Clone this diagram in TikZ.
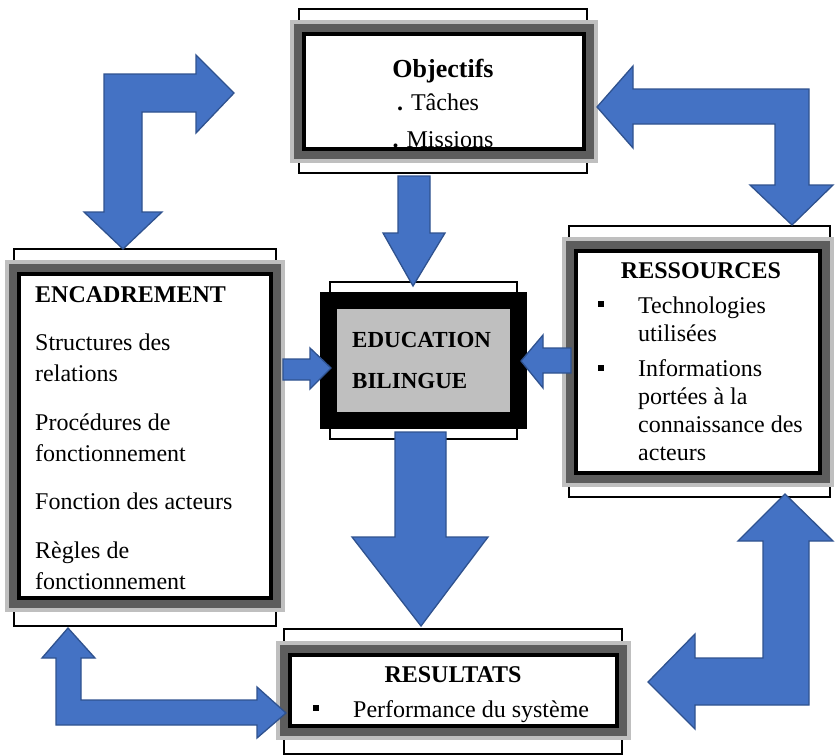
\documentclass[tikz,border=0pt]{standalone}
\usepackage{fontspec}
\setmainfont{Liberation Serif}

\definecolor{lightframe}{HTML}{BFBFBF}
\definecolor{darkframe}{HTML}{5D5D5D}
\definecolor{edufill}{HTML}{BFBFBF}
\definecolor{arrowblue}{HTML}{4472C4}
\definecolor{arrowedge}{HTML}{2F528F}

\tikzset{
	thinframe/.style={draw=black, line width=1.3pt},
	panel/.style={draw=black, line width=4pt, fill=white,
		preaction={draw=lightframe, line width=28pt},
		preaction={draw=darkframe, line width=20pt}},
	core/.style={draw=black, line width=17pt, fill=edufill},
	sqbullet/.style={fill=black, minimum size=6.5pt},
	blockarrow/.style={fill=arrowblue, draw=arrowedge, line width=1.3pt, line join=miter},
	title/.style={font=\bfseries\fontsize{24}{31}\selectfont}
}

\begin{document}
\begin{tikzpicture}[x=1pt, y=-1pt,
	every node/.style={inner sep=0pt, font=\fontsize{24}{31}\selectfont}]
	\useasboundingbox (0,0) rectangle (838,755);

	\node[thinframe, minimum width=288pt, minimum height=164pt] (objF) at (443,91) {};
	\node[thinframe, minimum width=262pt, minimum height=377pt] (encF) at (145,437.5) {};
	\node[thinframe, minimum width=261pt, minimum height=271pt] (resF) at (699.5,361.5) {};
	\node[thinframe, minimum width=338pt, minimum height=125pt] (rslF) at (453,691.5) {};
	\node[thinframe, minimum width=187pt, minimum height=157pt] (eduF) at (423.5,360.5) {};

	\node[panel, minimum width=280pt, minimum height=115pt] (obj) at (444,91.5) {};
	\node[panel, minimum width=252pt, minimum height=324pt] (enc) at (145,436) {};
	\node[panel, minimum width=244pt, minimum height=222pt] (res) at (698,362) {};
	\node[panel, minimum width=327pt, minimum height=71pt] (rsl) at (453.5,690.5) {};
	\node[core, minimum width=190pt, minimum height=120pt] (edu) at (423.5,360.5) {};

	\node[anchor=base, font=\bfseries\fontsize{26}{30}\selectfont] (objTitle) at (443,77) {Objectifs};
	\node[anchor=base] (objTache) at (438,110) {\textbf{.} Tâches};
	\node[anchor=base] (objMission) at (443,147) {\textbf{.} Missions};

	% base = last line of the block
	\node[anchor=base west, align=left] (encText) at (35,589)
		{\textbf{ENCADREMENT}\\[17.5pt]
		Structures des\\ relations\\[17.5pt]
		Procédures de\\ fonctionnement\\[17.5pt]
		Fonction des acteurs\\[17.5pt]
		Règles de\\ fonctionnement};

	\node[anchor=base, title] (resTitle) at (701,278) {RESSOURCES};
	\node[sqbullet] (resB1) at (601,304) {};
	\node[sqbullet] (resB2) at (601,368) {};
	\node[anchor=base west, align=left, font=\fontsize{24}{28}\selectfont] (resText) at (638,460)
		{Technologies\\ utilisées\\[7pt]
		Informations\\ portées à la\\ connaissance des\\ acteurs};

	\node[anchor=base, title] (rslTitle) at (453,682) {RESULTATS};
	\node[sqbullet] (rslB) at (316,708) {};
	\node[anchor=base west] (rslText) at (353,717) {Performance du système};

	\node[anchor=base west, align=left, font=\bfseries\fontsize{23}{41}\selectfont] (eduText) at (352,388)
		{EDUCATION\\ BILINGUE};

	\draw[blockarrow] (123,249) -- (162,212) -- (142,212) -- (142,112) -- (196,112) -- (196,133)
		-- (234,93) -- (196,55) -- (196,74) -- (104,74) -- (104,212) -- (84,212) -- cycle;
	\draw[blockarrow] (597,107) -- (633,66) -- (633,89) -- (809,89) -- (809,185) -- (833,185)
		-- (792,225) -- (750,185) -- (775,185) -- (775,124) -- (633,124) -- (633,148) -- cycle;
	\draw[blockarrow] (785,494) -- (833,541) -- (809,541) -- (809,705) -- (695,705) -- (695,729)
		-- (648,682) -- (695,634) -- (695,658) -- (763,658) -- (763,541) -- (738,541) -- cycle;
	\draw[blockarrow] (68,628) -- (95,658) -- (81,658) -- (81,700) -- (257,700) -- (257,687)
		-- (286,713) -- (257,738) -- (257,725) -- (56,725) -- (56,658) -- (42,658) -- cycle;

	\draw[blockarrow] (413,286) -- (445,233) -- (430,233) -- (430,176) -- (398,176) -- (398,233) -- (383,233) -- cycle;
	\draw[blockarrow] (331,368) -- (310,348) -- (310,359) -- (283,359) -- (283,380) -- (310,380) -- (310,389) -- cycle;
	\draw[blockarrow] (521,361) -- (543,335) -- (543,348) -- (571,348) -- (571,373) -- (543,373) -- (543,388) -- cycle;
	\draw[blockarrow] (421,626) -- (488,537) -- (446,537) -- (446,432) -- (395,432) -- (395,537) -- (352,537) -- cycle;
\end{tikzpicture}
\end{document}
